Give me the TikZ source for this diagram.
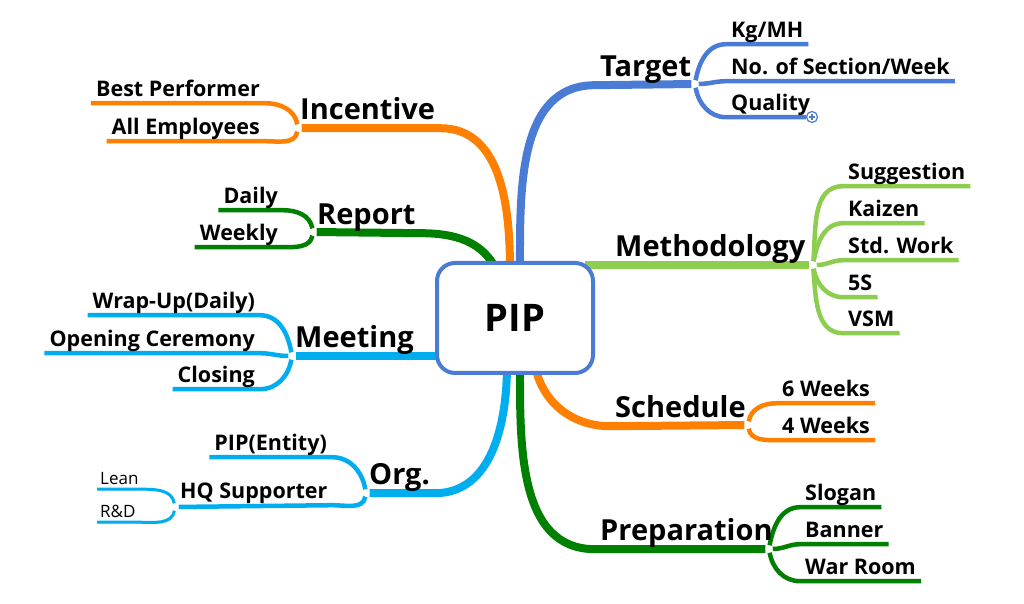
\documentclass[tikz,border=0pt]{standalone}
\usepackage{fontspec}
\setmainfont{Open Sans}
\usetikzlibrary{backgrounds}

\definecolor{pipblue}{RGB}{74,124,214}
\definecolor{methgreen}{RGB}{141,205,80}
\definecolor{piporange}{RGB}{255,128,0}
\definecolor{prepgreen}{RGB}{0,128,0}
\definecolor{meetblue}{RGB}{0,174,239}

\begin{document}
\begin{tikzpicture}[x=1pt, y=1pt,
  mainlabel/.style={inner xsep=5pt, inner ysep=0pt, text depth=8pt, font=\bfseries\fontsize{29}{31}\selectfont},
  sublabel/.style={inner xsep=5pt, inner ysep=0pt, text depth=6pt, font=\bfseries\fontsize{21.5}{23}\selectfont},
  leaflabel/.style={inner xsep=3pt, inner ysep=0pt, text depth=4pt, font=\fontsize{17}{19}\selectfont},
  junction/.style={circle, fill=white, inner sep=0pt, minimum size=7pt},
  shade/.style={preaction={draw=black!18, transform canvas={shift={(1pt,-1.5pt)}}}},
  branch/.style={shade, line width=8pt},
  twig/.style={shade, line width=4.5pt},
  sprig/.style={shade, line width=3pt}]
\useasboundingbox (0,0) rectangle (1024,604);

% centre
\node[draw=pipblue, line width=4pt, fill=white, rounded corners=18pt, minimum width=156pt, minimum height=110pt, font=\bfseries\fontsize{38}{40}\selectfont] (pip) at (515,286) {PIP};

% main topics
\node[mainlabel, anchor=base west] (target) at (595,527) {Target};
\node[mainlabel, anchor=base west] (method) at (610,347) {Methodology};
\node[mainlabel, anchor=base west] (sched) at (610,186) {Schedule};
\node[mainlabel, anchor=base west] (prep) at (595,63) {Preparation};
\node[mainlabel, anchor=base west] (incent) at (295,484) {Incentive};
\node[mainlabel, anchor=base west] (report) at (312,379) {Report};
\node[mainlabel, anchor=base west] (meeting) at (290,256) {Meeting};
\node[mainlabel, anchor=base west] (org) at (364,119) {Org.};

% right subtopics
\node[sublabel, anchor=base west] (kg) at (726,566) {Kg/MH};
\node[sublabel, anchor=base west] (sect) at (726,529) {No. of Section/Week};
\node[sublabel, anchor=base west] (qual) at (726,493) {Quality};
\node[sublabel, anchor=base west] (sugg) at (843,424) {Suggestion};
\node[sublabel, anchor=base west] (kaiz) at (843,387) {Kaizen};
\node[sublabel, anchor=base west] (stdw) at (843,350) {Std. Work};
\node[sublabel, anchor=base west] (fives) at (843,313) {5S};
\node[sublabel, anchor=base west] (vsm) at (843,277) {VSM};
\node[sublabel, anchor=base west] (six) at (777,207) {6 Weeks};
\node[sublabel, anchor=base west] (four) at (777,170) {4 Weeks};
\node[sublabel, anchor=base west] (slog) at (800,103) {Slogan};
\node[sublabel, anchor=base west] (bann) at (800,66) {Banner};
\node[sublabel, anchor=base west] (warr) at (800,29) {War Room};

% left subtopics
\node[sublabel, anchor=base east] (best) at (265,507) {Best Performer};
\node[sublabel, anchor=base east] (allemp) at (265,469) {All Employees};
\node[sublabel, anchor=base east] (daily) at (283,400) {Daily};
\node[sublabel, anchor=base east] (weekly) at (283,363) {Weekly};
\node[sublabel, anchor=base east] (wrap) at (260,295) {Wrap-Up(Daily)};
\node[sublabel, anchor=base east] (open) at (260,257) {Opening Ceremony};
\node[sublabel, anchor=base east] (closing) at (260,221) {Closing};
\node[sublabel, anchor=base east] (entity) at (332,153) {PIP(Entity)};
\node[sublabel, anchor=base west] (hq) at (175,105) {HQ Supporter};
\node[leaflabel, anchor=base west] (lean) at (97,119) {Lean};
\node[leaflabel, anchor=base west] (rnd) at (97,86) {R\&D};

% junction dots
\node[junction] (tj) at (695,520) {};
\node[junction] (mj) at (813,339) {};
\node[junction] (sj) at (748,179) {};
\node[junction] (pj) at (769,55) {};
\node[junction] (ij) at (298,476) {};
\node[junction] (rj) at (313,372) {};
\node[junction] (mtj) at (292,248) {};
\node[junction] (oj) at (366,111) {};
\node[junction] (hj) at (175,97) {};
\node[circle, draw=pipblue, fill=white, line width=1.2pt, inner sep=0pt, minimum size=11pt] (qplus) at (812,487) {};
\draw[pipblue, line width=1.5pt] ([xshift=-3pt]qplus.center) -- ([xshift=3pt]qplus.center)
  ([yshift=-3pt]qplus.center) -- ([yshift=3pt]qplus.center);

\begin{scope}[on background layer]
% main branches
\draw[branch, pipblue] ([xshift=5pt,yshift=-10pt]pip.north) to[out=90, in=180] (target.south west) -- (tj);
\draw[branch, piporange] ([xshift=-5pt,yshift=-10pt]pip.north) to[out=90, in=0] (incent.south east) -- (ij);
\draw[branch, prepgreen] ([xshift=-18pt,yshift=-10pt]pip.north) to[out=115, in=0] (report.south east) -- (rj);
\draw[branch, meetblue] ([xshift=10pt,yshift=-38pt]pip.west) -- (mtj);
\draw[branch, methgreen] ([xshift=-10pt,yshift=53pt]pip.east) -- (mj);
\draw[branch, meetblue] ([xshift=-8pt,yshift=10pt]pip.south) to[out=-90, in=0] (org.south east) -- (oj);
\draw[branch, prepgreen] ([xshift=5pt,yshift=10pt]pip.south) to[out=-90, in=180] (prep.south west) -- (pj);
\draw[branch, piporange] ([xshift=20pt,yshift=10pt]pip.south) to[out=-80, in=180] (sched.south west) -- (sj);

% target
\draw[twig, pipblue] (tj) to[out=80, in=180] (kg.south west) -- (kg.south east);
\draw[twig, pipblue] (tj) to[out=0, in=180] (sect.south west) -- (sect.south east);
\draw[twig, pipblue] (tj) to[out=-80, in=180] (qual.south west) -- (qplus);
% methodology
\draw[twig, methgreen] (mj) to[out=85, in=180] (sugg.south west) -- (sugg.south east);
\draw[twig, methgreen] (mj) to[out=80, in=180] (kaiz.south west) -- (kaiz.south east);
\draw[twig, methgreen] (mj) to[out=0, in=180] (stdw.south west) -- (stdw.south east);
\draw[twig, methgreen] (mj) to[out=-80, in=180] (fives.south west) -- (fives.south east);
\draw[twig, methgreen] (mj) to[out=-85, in=180] (vsm.south west) -- (vsm.south east);
% schedule
\draw[twig, piporange] (sj) to[out=80, in=180] (six.south west) -- (six.south east);
\draw[twig, piporange] (sj) to[out=-80, in=180] (four.south west) -- (four.south east);
% preparation
\draw[twig, prepgreen] (pj) to[out=80, in=180] (slog.south west) -- (slog.south east);
\draw[twig, prepgreen] (pj) to[out=0, in=180] (bann.south west) -- (bann.south east);
\draw[twig, prepgreen] (pj) to[out=-80, in=180] (warr.south west) -- (warr.south east);
% incentive
\draw[twig, piporange] (ij) to[out=100, in=0] (best.south east) -- (best.south west);
\draw[twig, piporange] (ij) to[out=-100, in=0] (allemp.south east) -- (allemp.south west);
% report
\draw[twig, prepgreen] (rj) to[out=100, in=0] (daily.south east) -- (daily.south west);
\draw[twig, prepgreen] (rj) to[out=-100, in=0] (weekly.south east) -- (weekly.south west);
% meeting
\draw[twig, meetblue] (mtj) to[out=100, in=0] (wrap.south east) -- (wrap.south west);
\draw[twig, meetblue] (mtj) to[out=180, in=0] (open.south east) -- (open.south west);
\draw[twig, meetblue] (mtj) to[out=-100, in=0] (closing.south east) -- (closing.south west);
% org
\draw[twig, meetblue] (oj) to[out=100, in=0] (entity.south east) -- (entity.south west);
\draw[twig, meetblue] (oj) to[out=-100, in=0] (hq.south east) -- (hj);
\draw[sprig, meetblue] (hj) to[out=100, in=0] (lean.south east) -- (lean.south west);
\draw[sprig, meetblue] (hj) to[out=-100, in=0] (rnd.south east) -- (rnd.south west);
\end{scope}
\end{tikzpicture}
\end{document}
